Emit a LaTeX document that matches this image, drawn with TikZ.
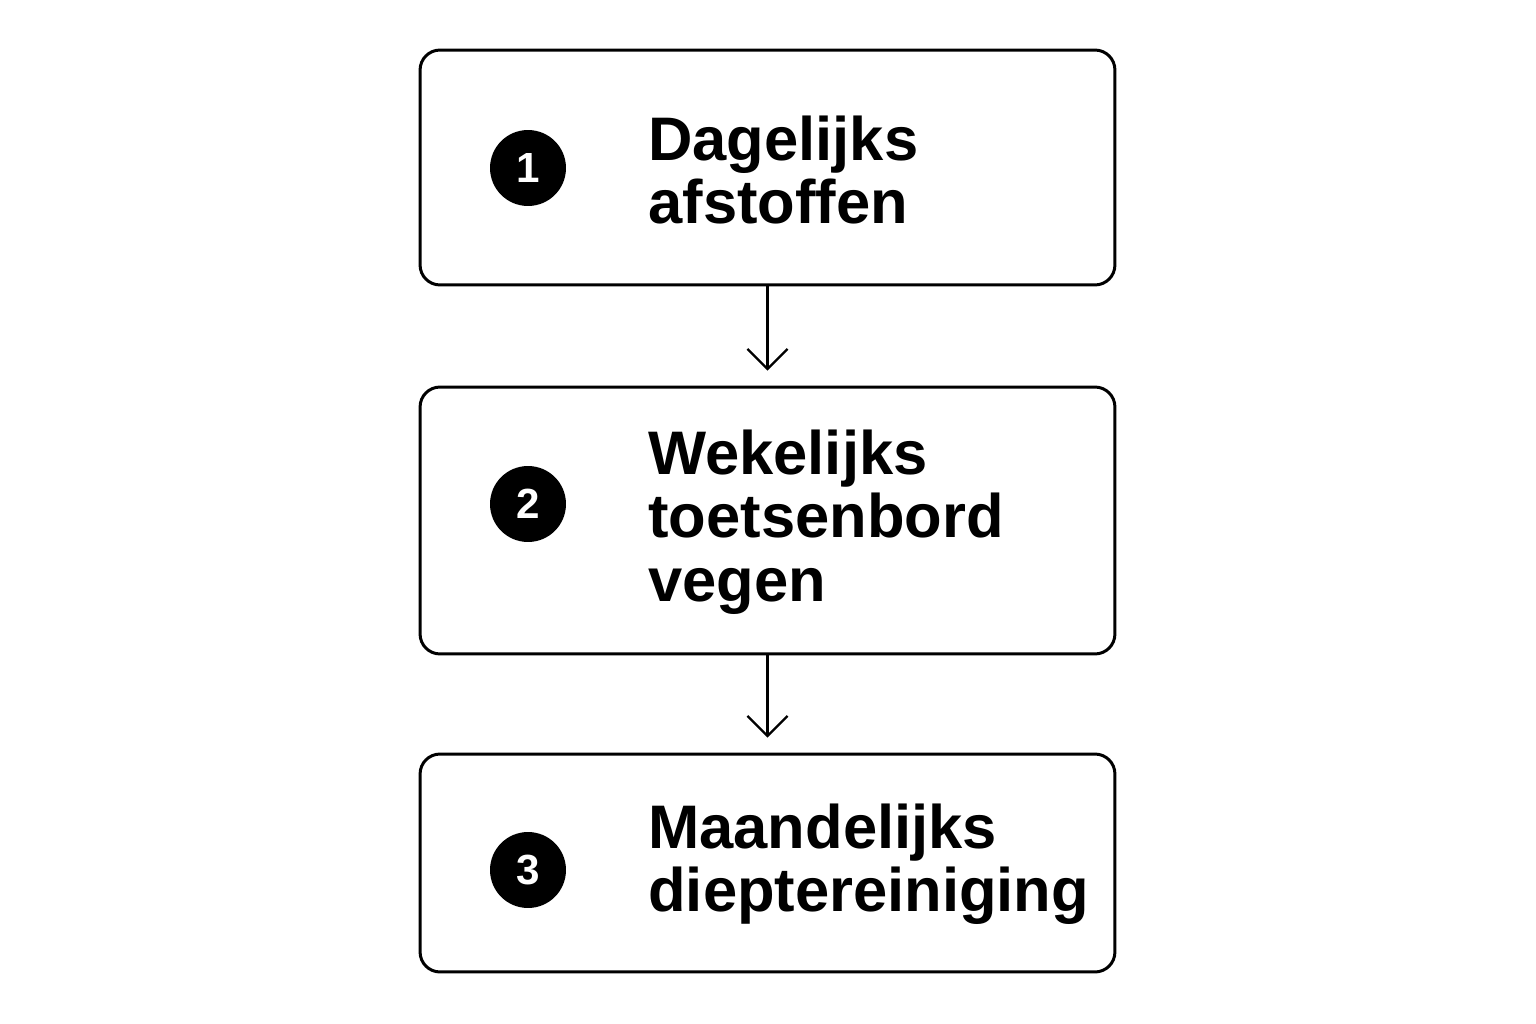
\documentclass[tikz,border=0pt]{standalone}
\usepackage{fontspec}
\setmainfont{Liberation Sans}
\usetikzlibrary{positioning,arrows.meta}

\tikzset{
  stepbox/.style={draw, line width=1.7pt, rounded corners=0.4cm,
    minimum width=13.9cm},
  badge/.style={circle, fill=black, text=white, minimum size=1.52cm,
    inner sep=0pt, font=\fontsize{24}{24}\selectfont\bfseries},
  label/.style={anchor=west, align=left, inner sep=0pt,
    font=\fontsize{35}{36}\selectfont\bfseries},
  flow/.style={line width=1.3pt, shorten >=0.3cm,
    -{Straight Barb[length=0.4cm,width=0.8cm]}}
}

\begin{document}
\begin{tikzpicture}[x=0.02cm,y=-0.02cm]
  \useasboundingbox (0,0) rectangle (1536,1024);

  \node[stepbox, minimum height=4.7cm] (box1) at (767.5,167.5) {};
  \node[stepbox, minimum height=5.34cm] (box2) at (767.5,520.5) {};
  \node[stepbox, minimum height=4.36cm] (box3) at (767.5,863) {};

  \node[badge] (num1) at (528,168) {1};
  \node[badge] (num2) at (528,504) {2};
  \node[badge] (num3) at (528,870) {3};

  \node[label] (txt1) at (648,170) {Dagelijks\\afstoffen};
  \node[label] (txt2) at (648,522) {Wekelijks\\toetsenbord\\vegen};
  \node[label] (txt3) at (648,864) {Maandelijks\\dieptereiniging};

  \draw[flow] (box1) -- (box2);
  \draw[flow] (box2) -- (box3);
\end{tikzpicture}
\end{document}
